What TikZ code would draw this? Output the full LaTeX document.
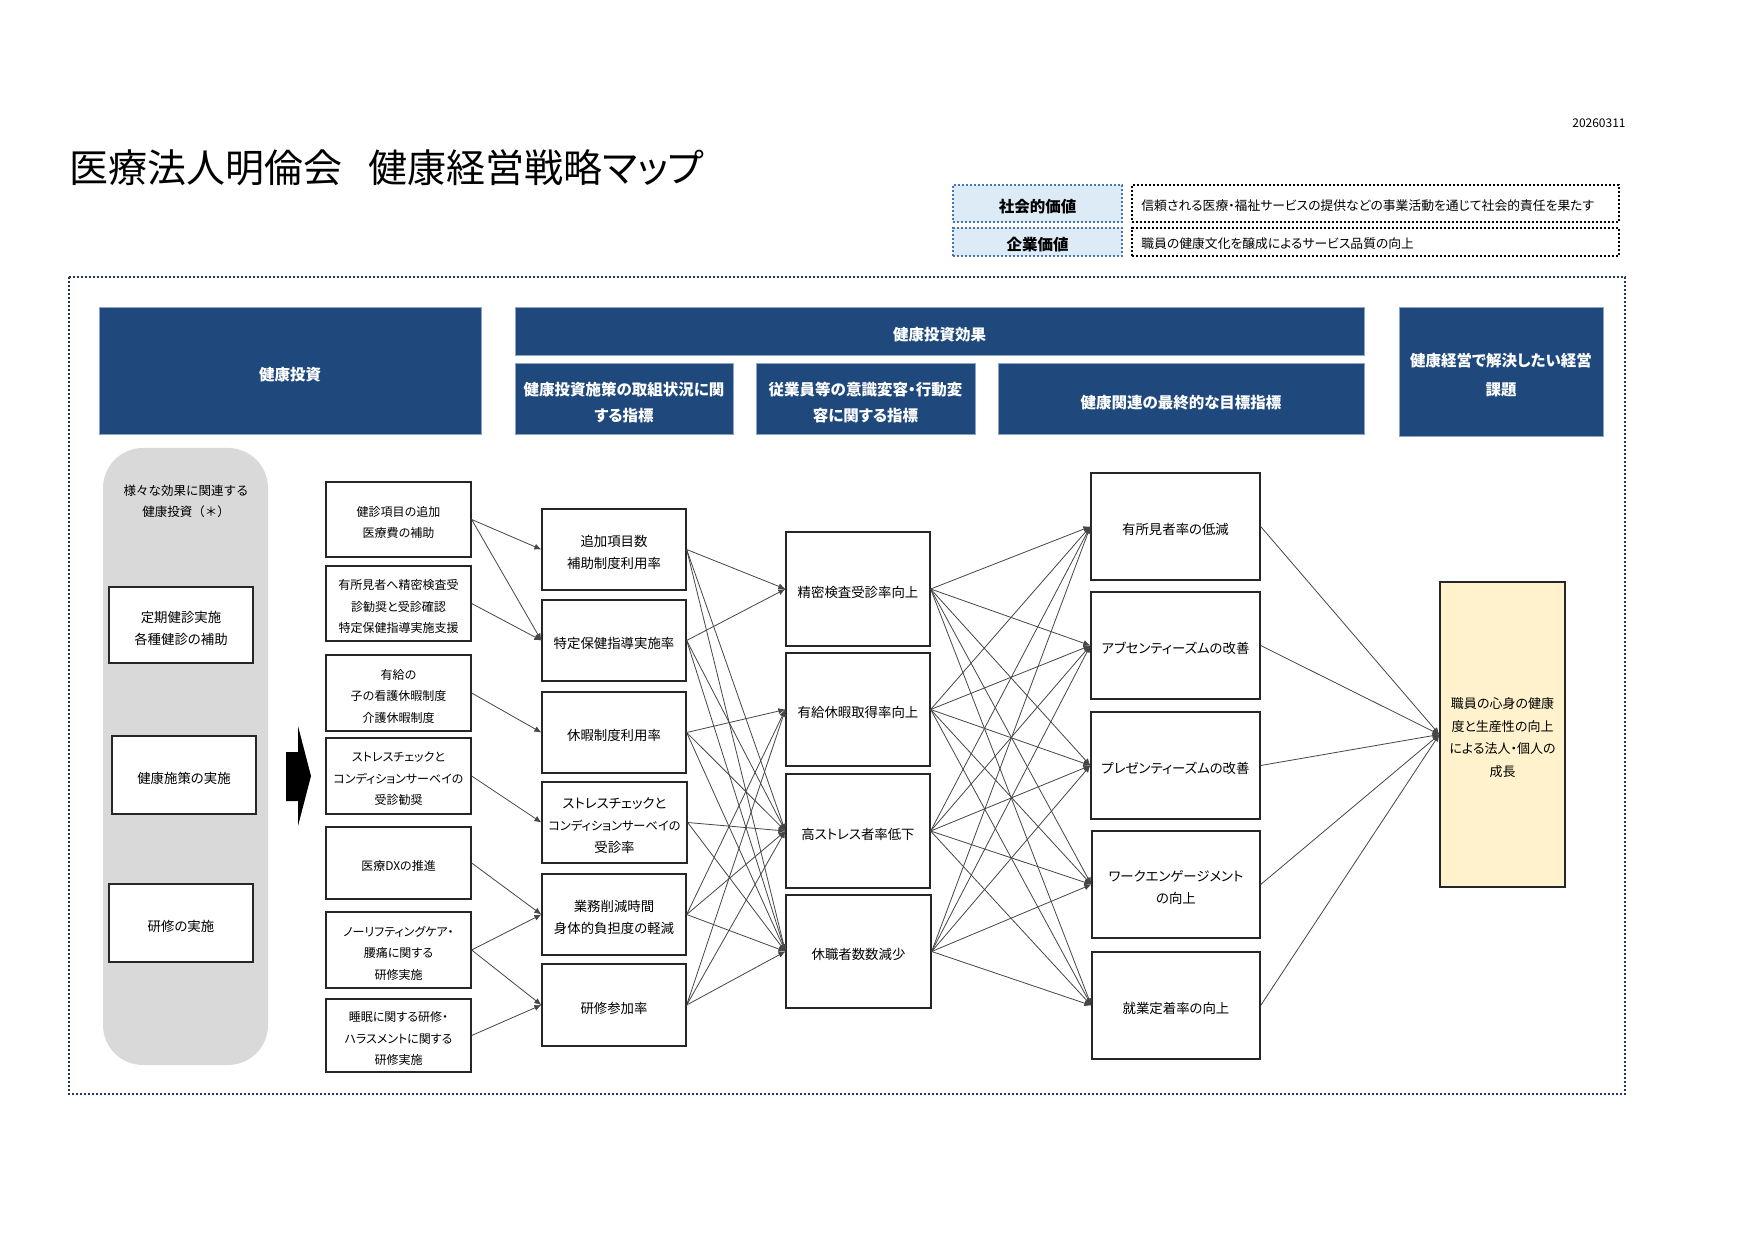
\documentclass[tikz,border=0pt]{standalone}
\usepackage{fontspec}
\setmainfont{Noto Sans CJK JP}[RawFeature={+palt}]
\usetikzlibrary{arrows.meta}
\definecolor{hdrblue}{RGB}{31,73,125}
\definecolor{hdredge}{RGB}{140,165,195}
\definecolor{valblue}{RGB}{221,235,247}
\definecolor{valedge}{RGB}{68,114,196}
\definecolor{outeredge}{RGB}{32,56,100}
\definecolor{panelgray}{RGB}{217,217,217}
\definecolor{goalfill}{RGB}{255,242,204}
\definecolor{linegray}{RGB}{70,70,70}
\newcommand\myfTitle{\fontsize{19.5pt}{22pt}\selectfont}
\newcommand\myfHdr{\fontsize{7.75pt}{13pt}\selectfont\bfseries}
\newcommand\myfHdrB{\fontsize{7.75pt}{14.5pt}\selectfont\bfseries}
\newcommand\myfVal{\fontsize{7.75pt}{9pt}\selectfont\bfseries}
\newcommand\myfSmall{\fontsize{6pt}{10.75pt}\selectfont}
\newcommand\myfDate{\fontsize{6pt}{8pt}\selectfont}
\newcommand\myfValTxt{\fontsize{6.4pt}{8pt}\selectfont}
\newcommand\myfMid{\fontsize{6.7pt}{11pt}\selectfont}
\newcommand\myfPanel{\fontsize{6.25pt}{10.5pt}\selectfont}
\newcommand\myfGoal{\fontsize{6.5pt}{11.25pt}\selectfont}
% style, name, x1, y1, x2, y2, text  (pixel coordinates); text set slightly lower
\newcommand\rbox[7]{%
  \node[#1, minimum width={(#5-#3)*0.5pt}, minimum height={(#6-#4)*0.5pt}] (#2) at ({(#3+#5)/2},{(#4+#6)/2}) {};%
  \node[#1, draw=none, fill=none, minimum width=0pt, minimum height=0pt] (#2-text) at ({(#3+#5)/2},{(#4+#6)/2+3}) {#7};}
\tikzset{
  hdr/.style={fill=hdrblue, draw=hdredge, line width=0.5pt, text=white, inner sep=0pt, align=center, font=\myfHdr},
  box/.style={draw=black!85, line width=0.65pt, fill=white, inner sep=0pt, align=center},
  valbox/.style={fill=valblue, draw=valedge, line width=1.1pt, dash pattern=on 1.1pt off 0.9pt, inner sep=0pt, font=\myfVal},
  txtbox/.style={draw=black, line width=1.1pt, dash pattern=on 1.1pt off 0.9pt, inner sep=0pt},
  conn/.style={draw=linegray, line width=0.4pt, -{Latex[length=3.5pt,width=3pt]}},
}
\begin{document}
\begin{tikzpicture}[x=0.5pt,y=-0.5pt]
\useasboundingbox (0,0) rectangle (1754,1240);
\fill[white] (0,0) rectangle (1754,1240);

% title and date
\node[anchor=west, inner sep=0pt, font=\myfTitle] (title) at (69,168) {医療法人明倫会{\fontsize{13pt}{13pt}\selectfont　}健康経営戦略マップ};
\node[anchor=east, inner sep=0pt, font=\myfDate] (date) at (1626,123) {20260311};

% values
\rbox{valbox}{s1}{953}{185}{1122}{222}{社会的価値}
\rbox{valbox}{s2}{953}{228}{1122}{256}{企業価値}
\rbox{txtbox}{t1}{1132}{185}{1619}{222}{}
\rbox{txtbox}{t2}{1132}{228}{1619}{256}{}
\node[anchor=west, inner sep=0pt, font=\myfValTxt] (t1txt) at (1141,206) {信頼される医療・福祉サービスの提供などの事業活動を通じて社会的責任を果たす};
\node[anchor=west, inner sep=0pt, font=\myfValTxt] (t2txt) at (1141,244) {職員の健康文化を醸成によるサービス品質の向上};

% outer border
\draw[outeredge, line width=1pt, dash pattern=on 1pt off 1pt] (69,277) rectangle (1625,1094);

% headers
\rbox{hdr}{h1}{99}{308}{481}{435}{健康投資}
\rbox{hdr}{h2}{515}{308}{1364}{356}{健康投資効果}
\rbox{hdr}{h3}{515}{364}{733}{435}{健康投資施策の取組状況に関\\する指標}
\rbox{hdr}{h4}{756}{364}{975}{435}{従業員等の意識変容・行動変\\容に関する指標}
\rbox{hdr}{h5}{998}{364}{1364}{435}{健康関連の最終的な目標指標}
\rbox{hdr, font=\myfHdrB}{h6}{1399}{308}{1603}{437}{健康経営で解決したい経営\\課題}

% left panel
\rbox{fill=panelgray, rounded corners=20pt, inner sep=0pt}{panel}{103}{448}{268}{1065}{}
\node[align=center, inner sep=0pt, font=\myfPanel\addfontfeatures{RawFeature=-palt}] (paneltxt) at (186,501) {様々な効果に関連する\\健康投資（＊）};
\rbox{box, font=\myfMid}{g1}{109}{587}{253}{663}{定期健診実施\\各種健診の補助}
\rbox{box, font=\myfMid}{g2}{112}{736}{256}{814}{健康施策の実施}
\rbox{box, font=\myfMid}{g3}{109}{884}{253}{962}{研修の実施}

% big arrow
\fill[black] (286,752) -- (298,752) -- (298,726) -- (311,776) -- (298,826) -- (298,801) -- (286,801) -- cycle;

% column 2: investments
\rbox{box, font=\myfSmall}{p1}{326}{482}{471}{557}{健診項目の追加\\医療費の補助}
\rbox{box, font=\myfSmall}{p2}{326}{566}{471}{641}{有所見者へ精密検査受\\診勧奨と受診確認\\特定保健指導実施支援}
\rbox{box, font=\myfSmall}{p3}{326}{655}{471}{731}{有給の\\子の看護休暇制度\\介護休暇制度}
\rbox{box, font=\myfSmall}{p4}{326}{738}{471}{814}{ストレスチェックと\\コンディションサーベイの\\受診勧奨}
\rbox{box, font=\myfSmall}{p5}{326}{827}{471}{899}{医療DXの推進}
\rbox{box, font=\myfSmall}{p6}{326}{912}{471}{988}{ノーリフティングケア・\\腰痛に関する\\研修実施}
\rbox{box, font=\myfSmall}{p7}{326}{999}{471}{1072}{睡眠に関する研修・\\ハラスメントに関する\\研修実施}

% column 3: indicators
\rbox{box, font=\myfMid}{q1}{542}{509}{686}{590}{追加項目数\\補助制度利用率}
\rbox{box, font=\myfMid}{q2}{542}{600}{686}{681}{特定保健指導実施率}
\rbox{box, font=\myfMid}{q3}{542}{692}{686}{773}{休暇制度利用率}
\rbox{box, font=\myfMid}{q4}{542}{782}{687}{863}{ストレスチェックと\\{\fontsize{6.1pt}{11pt}\selectfont コンディションサーベイの}\\受診率}
\rbox{box, font=\myfMid}{q5}{542}{874}{686}{955}{業務削減時間\\身体的負担度の軽減}
\rbox{box, font=\myfMid}{q6}{542}{964}{686}{1046}{研修参加率}

% column 4: behaviour
\rbox{box, font=\myfMid}{r1}{786}{532}{930}{646}{精密検査受診率向上}
\rbox{box, font=\myfMid}{r2}{786}{653}{930}{766}{有給休暇取得率向上}
\rbox{box, font=\myfMid}{r3}{786}{774}{930}{888}{高ストレス者率低下}
\rbox{box, font=\myfMid}{r4}{786}{895}{931}{1008}{休職者数数減少}

% column 5: final goals
\rbox{box, font=\myfMid}{u1}{1091}{473}{1260}{580}{有所見者率の低減}
\rbox{box, font=\myfMid}{u2}{1091}{592}{1260}{699}{アブセンティーズムの改善}
\rbox{box, font=\myfMid}{u3}{1091}{712}{1260}{819}{プレゼンティーズムの改善}
\rbox{box, font=\myfMid}{u4}{1092}{831}{1260}{938}{ワークエンゲージメント\\の向上}
\rbox{box, font=\myfMid}{u5}{1092}{952}{1260}{1059}{就業定着率の向上}

% column 6: management goal
\rbox{box, fill=goalfill, font=\myfGoal}{y1}{1440}{582}{1565}{887}{職員の心身の健康\\度と生産性の向上\\による法人・個人の\\成長}

% connectors col2 -> col3
\draw[conn] (p1.east) -- (q1.west);
\draw[conn] (p1.east) -- (q2.west);
\draw[conn] (p2.east) -- (q2.west);
\draw[conn] (p3.east) -- (q3.west);
\draw[conn] (p4.east) -- (q4.west);
\draw[conn] (p5.east) -- (q5.west);
\draw[conn] (p6.east) -- (q5.west);
\draw[conn] (p6.east) -- (q6.west);
\draw[conn] (p7.east) -- (q6.west);

% connectors col3 -> col4
\foreach \s/\t in {q1/r1,q1/r3,q1/r4,q2/r1,q2/r3,q2/r4,q3/r2,q3/r3,q3/r4,q4/r3,q4/r4,q5/r2,q5/r3,q5/r4,q6/r2,q6/r3,q6/r4}
  \draw[conn] (\s.east) -- (\t.west);

% connectors col4 -> col5
\foreach \s in {r1,r2,r3,r4}
  \foreach \t in {u1,u2,u3,u4,u5}
    \draw[conn] (\s.east) -- (\t.west);

% connectors col5 -> col6
\foreach \s in {u1,u2,u3,u4,u5}
  \draw[conn] (\s.east) -- (y1.west);
\end{tikzpicture}
\end{document}
